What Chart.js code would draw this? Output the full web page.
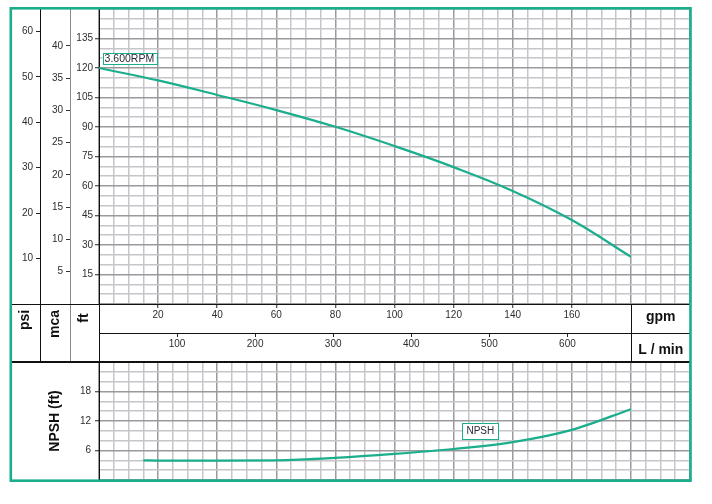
<!DOCTYPE html>
<html>
<head>
<meta charset="utf-8">
<script src="https://cdn.jsdelivr.net/npm/chart.js@4.4.1/dist/chart.umd.min.js"></script>
<style>
  html, body { margin: 0; padding: 0; background: #fff; }
  #wrap { position: relative; width: 712px; height: 504px; }
  canvas { position: absolute; left: 0; top: 0; }
</style>
</head>
<body>
<div id="wrap">
  <canvas id="headChart" width="712" height="504"></canvas>
  <canvas id="npshChart" width="712" height="504"></canvas>
</div>
<script>
// pump curve (flow in gpm, head in ft)
const flowGpm = [0, 20, 40, 60, 80, 100, 120, 140, 160, 180];
const headFt = [120, 113.7, 106.3, 98.6, 90.1, 80.3, 69.6, 57.5, 42.7, 24];
const npshFlow = [15, 20, 40, 60, 80, 100, 120, 140, 160, 180];
const npshFt = [4.0, 3.95, 3.95, 4.0, 4.5, 5.3, 6.3, 7.7, 10.2, 14.4];

// tick labels
const psiTicks = [10, 20, 30, 40, 50, 60];
const mcaTicks = [5, 10, 15, 20, 25, 30, 35, 40];
const ftTicks = [15, 30, 45, 60, 75, 90, 105, 120, 135];
const gpmTicks = [20, 40, 60, 80, 100, 120, 140, 160];
const lpmTicks = [100, 200, 300, 400, 500, 600];
const npshTicks = [6, 12, 18];

const GPM_MAX = 200, FT_MAX = 150, NPSH_MAX = 24;
const FT_PER_PSI = 2.31, FT_PER_M = 3.281, LPM_PER_GPM = 3.785;

const GREEN = '#1aae8c';
const MINOR = '#c6c6ca';
const MAJOR = '#9a9a9e';
const INK = '#2e2e2e';
const FONT = "'Liberation Sans', Arial, sans-serif";

Chart.defaults.font.family = FONT;
Chart.defaults.font.size = 10;
Chart.defaults.color = INK;

const hidden = 'rgba(0,0,0,0)';
const fixW = w => s => { s.width = w; s.paddingTop = 0; s.paddingBottom = 0; };
const fixH = h => s => { s.height = h; s.paddingLeft = 0; s.paddingRight = 0; };
const only = list => s => { s.ticks = list.map(v => ({ value: v })); };

function hline(ctx, x1, x2, y, color, w) {
  ctx.strokeStyle = color; ctx.lineWidth = w || 1;
  ctx.beginPath(); ctx.moveTo(x1, y); ctx.lineTo(x2, y); ctx.stroke();
}
function vline(ctx, x, y1, y2, color, w) {
  ctx.strokeStyle = color; ctx.lineWidth = w || 1;
  ctx.beginPath(); ctx.moveTo(x, y1); ctx.lineTo(x, y2); ctx.stroke();
}
function upText(ctx, txt, x, y, font) {
  ctx.save();
  ctx.translate(x, y); ctx.rotate(-Math.PI / 2);
  ctx.font = font; ctx.fillStyle = '#111';
  ctx.textAlign = 'center'; ctx.textBaseline = 'middle';
  ctx.fillText(txt, 0, 0);
  ctx.restore();
}
function tag(ctx, txt, x, yMid, padX, h, size) {
  ctx.font = size + 'px ' + FONT;
  const w = ctx.measureText(txt).width + padX * 2;
  ctx.fillStyle = '#fff';
  ctx.fillRect(x, yMid - h / 2, w, h);
  ctx.strokeStyle = GREEN; ctx.lineWidth = 1;
  ctx.strokeRect(Math.round(x) + 0.5, Math.round(yMid - h / 2) + 0.5, Math.round(w), Math.round(h));
  ctx.fillStyle = '#2b2b3a'; ctx.textAlign = 'left'; ctx.textBaseline = 'middle';
  ctx.fillText(txt, x + padX, yMid + 0.5);
}

// frame pieces and labels around the head chart
const headFrame = {
  id: 'headFrame',
  afterDraw(chart) {
    const { ctx, chartArea: a, scales } = chart;
    const bandTop = a.bottom, bandBot = scales.lpm.bottom;
    const div = Math.round(scales.gpm.getPixelForValue(180)) + 0.5;
    ctx.save();
    vline(ctx, Math.round(scales.psi.right) + 0.5, bandTop, bandBot, '#111');
    vline(ctx, Math.round(scales.mca.right) + 0.5, bandTop, bandBot, '#8a8a8a');
    vline(ctx, Math.round(a.left) + 0.5, bandTop, bandBot, '#111');
    vline(ctx, div, bandTop, bandBot, '#111');
    hline(ctx, scales.psi.left, a.left, Math.round(bandTop) + 0.5, '#111');

    const midY = bandTop + 16;
    upText(ctx, 'psi', (scales.psi.left + scales.psi.right) / 2, midY, 'bold 14px ' + FONT);
    upText(ctx, 'mca', (scales.mca.left + scales.mca.right) / 2, midY + 4, 'bold 14px ' + FONT);
    upText(ctx, 'ft', (scales.ft.left + scales.ft.right) / 2, midY - 2, 'bold 14px ' + FONT);

    ctx.font = 'bold 14px ' + FONT; ctx.fillStyle = '#111';
    ctx.textAlign = 'center'; ctx.textBaseline = 'alphabetic';
    const cx = (div + a.right) / 2;
    ctx.fillText('gpm', cx, scales.gpm.top + 16.5);
    ctx.fillText('L / min', cx, scales.lpm.top + 21);

    tag(ctx, '3.600RPM', scales.gpm.getPixelForValue(1.2), scales.ft.getPixelForValue(124.7), 2, 11, 10.5);
    ctx.restore();
  }
};

new Chart(document.getElementById('headChart'), {
  type: 'line',
  data: {
    datasets: [{
      data: flowGpm.map((x, i) => ({ x, y: headFt[i] })),
      xAxisID: 'gpm', yAxisID: 'ft',
      borderColor: GREEN, borderWidth: 2.2, pointRadius: 0,
      tension: 0.4, fill: false
    }]
  },
  options: {
    responsive: false, animation: false,
    layout: { padding: { left: 11, top: 9, right: 22, bottom: 142 } },
    plugins: { legend: { display: false }, tooltip: { enabled: false } },
    scales: {
      gpm: {
        type: 'linear', position: 'bottom', weight: 0, min: 0, max: GPM_MAX,
        afterFit: fixH(29),
        ticks: {
          stepSize: 5, autoSkip: false, maxRotation: 0, padding: 1,
          callback: v => gpmTicks.includes(v) ? v : ''
        },
        grid: {
          color: c => c.tick.value % 20 === 0 ? MAJOR : MINOR, lineWidth: 1.5,
          tickLength: 4, tickWidth: 1,
          tickColor: c => gpmTicks.includes(c.tick.value) ? '#222' : hidden
        },
        border: { color: '#111', width: 1 }
      },
      lpm: {
        type: 'linear', position: 'bottom', weight: 1, min: 0, max: GPM_MAX * LPM_PER_GPM,
        afterFit: fixH(29), afterBuildTicks: only(lpmTicks),
        ticks: { autoSkip: false, maxRotation: 0, padding: 1 },
        grid: { drawOnChartArea: false, tickLength: 4, tickColor: '#222' },
        border: { color: '#111', width: 1 }
      },
      ft: {
        type: 'linear', position: 'left', weight: 0, min: 0, max: FT_MAX,
        afterFit: fixW(29),
        ticks: {
          stepSize: 5, autoSkip: false, padding: 2,
          callback: v => ftTicks.includes(v) ? v : ''
        },
        grid: {
          color: c => c.tick.value % 15 === 0 ? MAJOR : MINOR, lineWidth: 1.5,
          tickLength: 4, tickWidth: 1,
          tickColor: c => ftTicks.includes(c.tick.value) ? '#222' : hidden
        },
        border: { color: '#111', width: 1 }
      },
      mca: {
        type: 'linear', position: 'left', weight: 1, min: 0, max: FT_MAX / FT_PER_M,
        afterFit: fixW(30), afterBuildTicks: only(mcaTicks),
        ticks: { autoSkip: false, padding: 3 },
        grid: { drawOnChartArea: false, tickLength: 4, tickColor: '#333' },
        border: { color: '#8a8a8a', width: 1 }
      },
      psi: {
        type: 'linear', position: 'left', weight: 2, min: 0, max: FT_MAX / FT_PER_PSI,
        afterFit: fixW(29), afterBuildTicks: only(psiTicks),
        ticks: { autoSkip: false, padding: 3 },
        grid: { drawOnChartArea: false, tickLength: 4, tickColor: '#222' },
        border: { color: '#111', width: 1 }
      }
    }
  },
  plugins: [headFrame]
});

// NPSH panel, outer frame on top of everything
const npshFrame = {
  id: 'npshFrame',
  afterDraw(chart) {
    const { ctx, chartArea: a, scales } = chart;
    ctx.save();
    upText(ctx, 'NPSH (ft)', (11 + a.left) / 2, (a.top + a.bottom) / 2, 'bold 14px ' + FONT);
    tag(ctx, 'NPSH', scales.x.getPixelForValue(123), scales.y.getPixelForValue(10), 4, 16, 10);
    hline(ctx, 11, a.right, a.top, '#111', 2.2);
    ctx.strokeStyle = GREEN; ctx.lineWidth = 2.6;
    ctx.strokeRect(10.8, 8.3, a.right - 10.3, a.bottom - 7.6);
    ctx.restore();
  }
};

new Chart(document.getElementById('npshChart'), {
  type: 'line',
  data: {
    datasets: [{
      data: npshFlow.map((x, i) => ({ x, y: npshFt[i] })),
      borderColor: GREEN, borderWidth: 2.2, pointRadius: 0,
      cubicInterpolationMode: 'monotone', fill: false
    }]
  },
  options: {
    responsive: false, animation: false,
    layout: { padding: { left: 11, top: 362, right: 22, bottom: 24 } },
    plugins: { legend: { display: false }, tooltip: { enabled: false } },
    scales: {
      x: {
        type: 'linear', min: 0, max: GPM_MAX, afterFit: fixH(0),
        ticks: { display: false, stepSize: 5, autoSkip: false },
        grid: { color: c => c.tick.value % 20 === 0 ? MAJOR : MINOR, lineWidth: 1.5, drawTicks: false },
        border: { display: false }
      },
      y: {
        type: 'linear', position: 'left', min: 0, max: NPSH_MAX,
        afterFit: fixW(88),
        ticks: {
          stepSize: 2, autoSkip: false, padding: 4,
          callback: v => npshTicks.includes(v) ? v : ''
        },
        grid: {
          color: c => c.tick.value % 6 === 0 ? MAJOR : MINOR, lineWidth: 1.5,
          tickLength: 4, tickWidth: 1,
          tickColor: c => npshTicks.includes(c.tick.value) ? '#222' : hidden
        },
        border: { color: '#111', width: 1 }
      }
    }
  },
  plugins: [npshFrame]
});
</script>
</body>
</html>
